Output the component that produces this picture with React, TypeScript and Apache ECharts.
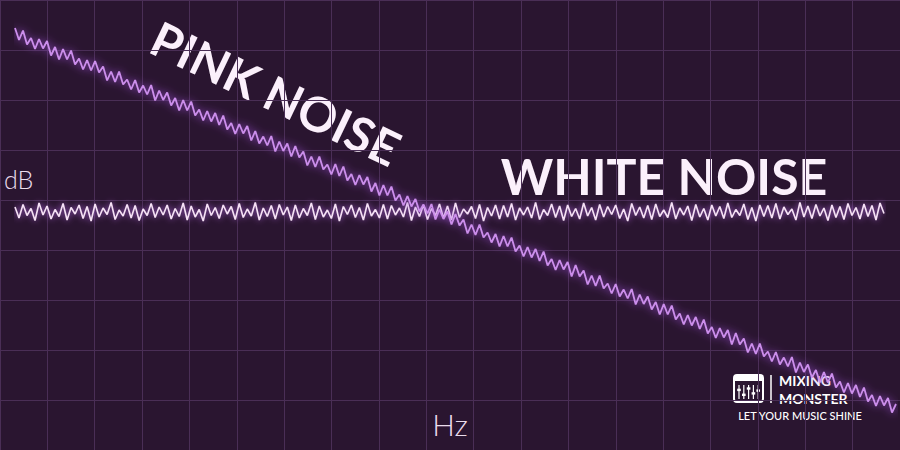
import React, { useEffect, useRef } from "react";
import * as echarts from "echarts";

// White noise level (dB) per sample, flat spectrum
const whiteNoise = [
  48.6, 46.4, 49.1, 46.9, 48.3, 45.9, 49.4, 47.0, 48.8, 46.2,
  48.1, 46.7, 49.3, 46.0, 48.5, 47.2, 49.0, 46.3, 48.7, 45.8,
  49.2, 46.6, 48.4, 47.1, 49.5, 46.1, 48.0, 46.8, 49.1, 46.4,
  48.9, 45.9, 48.2, 46.9, 49.3, 46.5, 48.6, 47.0, 49.0, 46.2,
  48.3, 46.7, 49.4, 46.0, 48.8, 46.6, 48.1, 45.8, 49.2, 46.9,
  48.5, 46.3, 49.0, 47.2, 48.7, 46.1, 49.3, 46.5, 48.2, 46.8,
  49.5, 46.0, 48.4, 46.7, 48.9, 46.2, 49.1, 47.0, 48.6, 45.9,
  49.0, 46.4, 48.3, 46.9, 49.4, 46.1, 48.8, 46.6, 48.0, 46.3,
  49.2, 45.8, 48.7, 47.1, 49.0, 46.5, 48.5, 46.0, 49.3, 46.8,
  48.1, 46.4, 49.1, 46.2, 48.9, 47.0, 48.4, 46.6, 49.5, 45.9,
  48.6, 46.7, 49.0, 46.1, 48.3, 46.9, 49.2, 46.4, 48.8, 46.0,
  49.4, 46.5, 48.2, 47.2, 48.7, 46.3, 49.1, 45.8, 48.5, 46.8,
  49.0, 46.2, 48.9, 46.6, 49.3, 46.0, 48.4, 47.0, 48.6, 46.4,
  49.5, 46.1, 48.1, 46.9, 49.2, 46.5, 48.8, 45.9, 49.0, 46.7,
  48.3, 46.2, 49.4, 46.8, 48.5, 46.0, 49.1, 46.6, 48.7, 47.1,
  49.0, 46.3, 48.2, 45.8, 49.3, 46.9, 48.6, 46.4, 48.9, 46.1,
  49.2, 46.7, 48.0, 46.5, 49.5, 46.2, 48.4, 47.0, 48.8, 45.9,
  49.1, 46.6, 48.3, 46.0, 49.0, 46.8, 48.7, 46.3, 49.4, 46.5,
  48.1, 46.9, 49.2, 46.1, 48.5, 45.8, 49.0, 46.7, 48.9, 46.4,
  49.3, 46.2, 48.6, 47.1, 48.2, 46.0, 49.5, 46.6, 48.8, 46.3,
  49.1, 46.8, 48.4, 45.9, 49.0, 46.5, 48.7, 46.1, 49.3, 46.9,
  48.5, 46.2, 49.2, 46.7, 48.9, 46.0, 49.4, 47.3,
];

// Pink noise level (dB) per sample, falling with frequency
const pinkNoise = [
  84.4, 82.0, 83.9, 81.1, 82.4, 80.2, 82.2, 80.3, 81.8, 78.9,
  80.6, 78.1, 80.2, 78.1, 79.9, 77.1, 78.3, 76.1, 78.0, 75.9,
  77.8, 75.5, 76.7, 73.9, 75.7, 73.6, 75.7, 73.1, 74.1, 72.1,
  74.0, 71.5, 72.9, 71.1, 73.0, 69.9, 71.9, 70.0, 71.5, 68.9,
  70.4, 67.9, 70.0, 67.9, 69.7, 66.9, 68.1, 65.9, 67.8, 65.7,
  67.4, 65.0, 66.9, 64.1, 65.4, 63.2, 65.2, 63.3, 64.8, 61.9,
  63.8, 61.3, 62.7, 60.9, 62.8, 59.7, 61.7, 59.8, 61.3, 58.7,
  60.8, 58.5, 59.7, 56.9, 58.7, 56.6, 58.7, 56.1, 57.1, 55.1,
  57.2, 54.8, 56.7, 53.9, 55.2, 53.0, 55.0, 53.1, 54.6, 51.7,
  53.4, 50.9, 53.0, 50.9, 52.7, 49.9, 51.1, 48.9, 50.8, 48.7,
  50.2, 47.7, 49.1, 47.3, 49.2, 46.1, 48.1, 46.2, 47.7, 45.1,
  47.2, 44.9, 46.1, 43.3, 45.1, 43.0, 45.1, 42.5, 43.5, 41.5,
  43.2, 40.7, 42.8, 40.7, 42.5, 39.7, 40.9, 38.7, 40.6, 38.5,
  40.2, 37.8, 39.7, 36.9, 38.2, 36.0, 38.0, 36.1, 37.6, 34.7,
  37.0, 34.7, 35.9, 33.1, 34.9, 32.8, 34.9, 32.3, 33.3, 31.3,
  33.2, 30.7, 32.1, 30.3, 32.2, 29.1, 31.1, 29.2, 30.7, 28.1,
  29.6, 27.1, 29.2, 27.1, 28.9, 26.1, 27.3, 25.1, 27.0, 24.9,
  26.6, 24.2, 26.1, 23.3, 24.6, 22.4, 24.4, 22.5, 24.0, 21.1,
  23.4, 21.1, 22.3, 19.5, 21.3, 19.2, 21.3, 18.7, 19.7, 17.7,
  19.6, 17.1, 18.5, 16.7, 18.6, 15.5, 17.5, 15.6, 17.1, 14.5,
  16.0, 13.5, 15.6, 13.5, 15.3, 12.5, 13.7, 11.5, 13.4, 11.3,
  13.0, 10.6, 12.5, 9.7, 11.0, 8.8, 10.8, 8.9, 10.4, 7.5,
  9.2,
];

const pinkSamples = pinkNoise.map((_, i) => String(i));
const whiteSamples = whiteNoise.map((_, i) => String(i));

const titlePink = "PINK NOISE";
const titleWhite = "WHITE NOISE";
const yName = "dB";
const xName = "Hz";
const brand1 = "MIXING";
const brand2 = "MONSTER";
const slogan = "LET YOUR MUSIC SHINE";

const sliderKnobs = [0.35, 0.7, 0.25, 0.6, 0.4];

export default function App() {
  const ref = useRef<HTMLDivElement>(null);
  useEffect(() => {
    if (!ref.current) return;
    const chart = echarts.init(ref.current, null, { renderer: "svg" });
    const gridLine = { show: true, lineStyle: { color: "#4a2e56", width: 1 } };
    const hidden = { show: false };
    const yRange = { type: "value", min: 0, max: 90, interval: 10 };

    const iconX = 734, iconY = 375, iconW = 29, iconH = 27;
    const icon: any[] = [
      { type: "rect", shape: { x: iconX, y: iconY, width: iconW, height: iconH, r: 3 }, style: { fill: "none", stroke: "#ffffff", lineWidth: 2 } },
      { type: "rect", shape: { x: iconX, y: iconY, width: iconW, height: 6, r: [3, 3, 0, 0] }, style: { fill: "#ffffff" } },
    ];
    sliderKnobs.forEach((k, i) => {
      const sx = iconX + 5 + i * 4.8;
      const top = iconY + 10, bot = iconY + iconH - 3;
      icon.push({ type: "line", shape: { x1: sx, y1: top, x2: sx, y2: bot }, style: { stroke: "#ffffff", lineWidth: 1.2 } });
      const ky = top + (bot - top) * k;
      icon.push({ type: "rect", shape: { x: sx - 1.8, y: ky - 1.2, width: 3.6, height: 2.4 }, style: { fill: "#ffffff" } });
    });

    chart.setOption({
      animation: false,
      backgroundColor: "#2a1530",
      grid: [
        { left: -38, right: -35, top: -8, bottom: -4 },
        { left: 15, right: 4, top: -8, bottom: -4 },
        { left: 15, right: 16, top: -8, bottom: -4 },
      ],
      xAxis: [
        { type: "value", gridIndex: 0, min: 0, max: 19, interval: 1, axisLine: hidden, axisTick: hidden, axisLabel: hidden, splitLine: gridLine },
        { type: "category", gridIndex: 1, data: pinkSamples, boundaryGap: false, show: false },
        { type: "category", gridIndex: 2, data: whiteSamples, boundaryGap: false, show: false },
      ],
      yAxis: [
        { ...yRange, gridIndex: 0, axisLine: hidden, axisTick: hidden, axisLabel: hidden, splitLine: gridLine },
        { ...yRange, gridIndex: 1, show: false, splitLine: hidden },
        { ...yRange, gridIndex: 2, show: false, splitLine: hidden },
      ],
      series: [
        {
          type: "line", xAxisIndex: 2, yAxisIndex: 2, data: whiteNoise, symbol: "none",
          lineStyle: { color: "#f6e0f6", width: 1.6, shadowBlur: 6, shadowColor: "rgba(180,100,230,0.9)" },
        },
        {
          type: "line", xAxisIndex: 1, yAxisIndex: 1, data: pinkNoise, symbol: "none",
          lineStyle: { color: "#cc8eec", width: 1.8, shadowBlur: 8, shadowColor: "rgba(160,80,220,0.95)" },
        },
      ],
      graphic: [
        { type: "text", x: 276, y: 93, rotation: -0.447, style: { text: titlePink, fill: "#fbf0fb", font: "bold 48px Lato", align: "center", verticalAlign: "middle" } },
        { type: "text", x: 664, y: 176, style: { text: titleWhite, fill: "#fbf0fb", font: "bold 50px Lato", align: "center", verticalAlign: "middle" } },
        { type: "text", x: 4, y: 179, style: { text: yName, fill: "#eadcec", font: "300 25px Lato", align: "left", verticalAlign: "middle" } },
        { type: "text", x: 450, y: 424, style: { text: xName, fill: "#eadcec", font: "300 30px Lato", align: "center", verticalAlign: "middle" } },
        ...icon,
        { type: "line", shape: { x1: 771, y1: 375, x2: 771, y2: 403 }, style: { stroke: "#ffffff", lineWidth: 1.5 } },
        { type: "text", x: 779, y: 380.5, style: { text: brand1, fill: "#ffffff", font: "bold 14px Lato", align: "left", verticalAlign: "middle" } },
        { type: "text", x: 779, y: 398.5, style: { text: brand2, fill: "#ffffff", font: "bold 14px Lato", align: "left", verticalAlign: "middle" } },
        { type: "text", x: 800, y: 415, style: { text: slogan, fill: "#ffffff", font: "500 11px Lato", align: "center", verticalAlign: "middle" } },
      ],
    });
    return () => chart.dispose();
  }, []);
  return <div ref={ref} style={{ position: "fixed", left: 0, top: 0, width: 900, height: 450 }} />;
}
